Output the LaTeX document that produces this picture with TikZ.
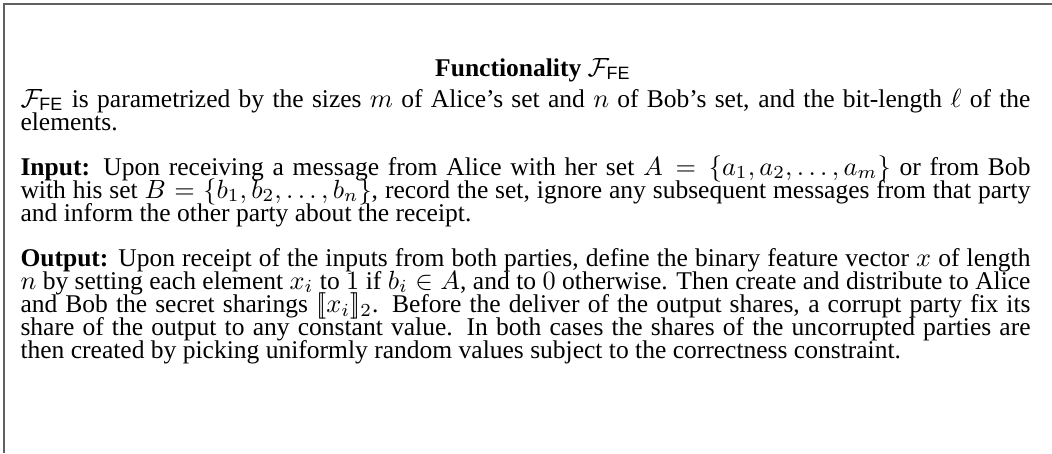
\documentclass[tikz,border=0pt]{standalone}
\usepackage{fontspec}
\setmainfont{Liberation Serif}
\setsansfont{Liberation Sans}
\newcommand\boxtext[1]{\parbox[t]{383.8pt}{\fontsize{9.7pt}{8.75pt}\selectfont\lineskiplimit=-20pt\relax #1}}
\begin{document}
\begin{tikzpicture}[x=0.38pt,y=-0.38pt,
  frameline/.style={draw=black!62, line width=0.65pt},
  titletext/.style={anchor=base, inner sep=0pt, font=\fontsize{9.7pt}{8.75pt}\selectfont},
  para/.style={anchor=base west, inner sep=0pt}]
\useasboundingbox (0,0) rectangle (1052,453);
\draw[frameline] (1052,4.2) -- (4.2,4.2) -- (4.2,453);
\node[titletext] (title) at (533,76) {\textbf{Functionality} $\mathcal{F}_{\mathsf{FE}}$};
\node[para] (p1) at (20,107) {\boxtext{$\mathcal{F}_{\mathsf{FE}}$ is parametrized by the sizes $m$ of Alice's set and $n$ of Bob's set, and the bit-length $\ell$ of the\linebreak elements.}};
\node[para] (p2) at (20,175) {\boxtext{\textbf{Input:} Upon receiving a message from Alice with her set $A=\{a_1,a_2,\dots,a_m\}$ or from Bob\linebreak with his set $B=\{b_1,b_2,\dots,b_n\}$, record the set, ignore any subsequent messages from that party\linebreak and inform the other party about the receipt.}};
\node[para] (p3) at (20,266) {\boxtext{\textbf{Output:} Upon receipt of the inputs from both parties, define the binary feature vector $x$ of length\linebreak $n$ by setting each element $x_i$ to $1$ if $b_i\in A$, and to $0$ otherwise. Then create and distribute to Alice\linebreak and Bob the secret sharings $[\![x_i]\!]_2$. Before the deliver of the output shares, a corrupt party fix its\linebreak share of the output to any constant value. In both cases the shares of the uncorrupted parties are\linebreak then created by picking uniformly random values subject to the correctness constraint.}};
\end{tikzpicture}
\end{document}
